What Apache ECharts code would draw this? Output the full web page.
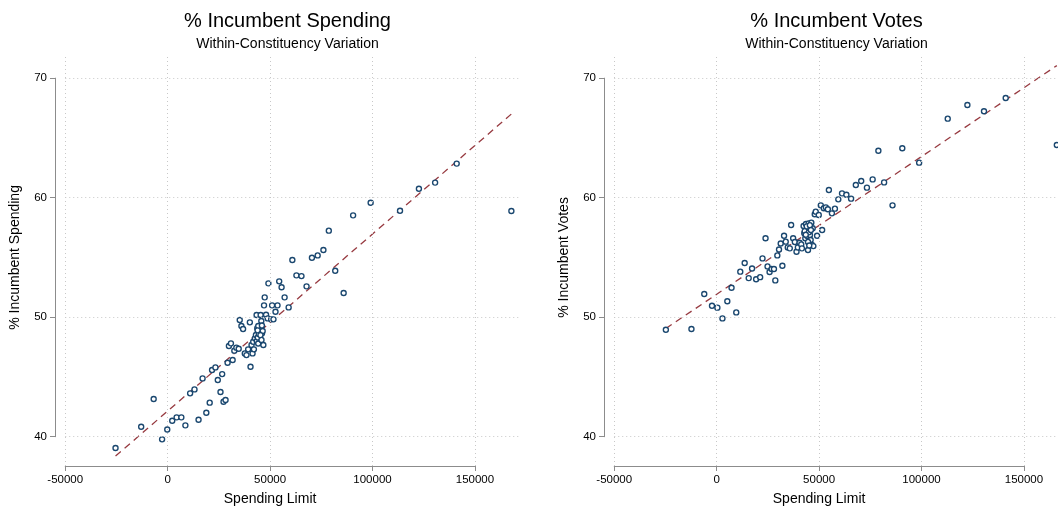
<!DOCTYPE html>
<html>
<head>
<meta charset="utf-8">
<script src="https://cdn.jsdelivr.net/npm/echarts@6/dist/echarts.min.js"></script>
<style>
html, body { margin: 0; padding: 0; background: #fff; }
#chart { width: 1058px; height: 506px; }
</style>
</head>
<body>
<div id="chart"></div>
<script>
//----------------------Data----------------------
let x_ticks = [-50000, 0, 50000, 100000, 150000];
let y_ticks = [40, 50, 60, 70];

// % incumbent spending vs spending limit
let spend_x = [-25450, -12930, -6830, -2720, -200, 2230, 4370, 6680, 8650, 10960,
    13100, 15080, 17050, 18870, 20520, 21670, 23320, 24470, 25790, 26610,
    27270, 28260, 29250, 29900, 30890, 31720, 32540, 33530, 34680, 35180,
    36000, 36820, 37650, 38470, 39290, 40120, 40450, 40940, 41440, 41770,
    42100, 42590, 43080, 43410, 43740, 44230, 44730, 45060, 45390, 45720,
    46050, 46380, 46710, 48030, 48850, 50500, 51650, 52640, 47040, 50990,
    53630, 59060, 47370, 49180, 54450, 55610, 57090, 60870, 62850, 65320,
    67800, 70430, 73230, 76030, 78670, 81800, 85910, 90530, 99090, 113430,
    122650, 130560, 141100, 167790, 43500, 44000, 44500, 45300, 46000, 44200,
    45800, 43900];
let spend_y = [39.05, 40.84, 43.15, 39.78, 40.61, 41.34, 41.62, 41.62, 40.95, 43.63,
    43.96, 41.42, 44.88, 42.01, 42.85, 45.58, 45.80, 44.74, 43.74, 45.24,
    42.93, 43.07, 46.19, 47.59, 47.81, 46.42, 47.20, 47.45, 47.36, 49.76,
    49.26, 49.01, 46.97, 46.83, 47.31, 49.57, 45.86, 47.67, 46.97, 47.95,
    47.31, 48.23, 48.51, 50.18, 49.07, 49.26, 48.79, 47.95, 50.18, 49.68,
    48.65, 48.84, 47.67, 50.21, 49.90, 49.82, 49.82, 50.46, 50.99, 50.99,
    50.99, 50.82, 51.66, 52.83, 53.00, 52.50, 51.66, 54.78, 53.50, 53.44,
    52.58, 54.98, 55.17, 55.62, 57.24, 53.89, 52.02, 58.52, 59.58, 58.91,
    60.75, 61.26, 62.85, 58.88, 48.00, 48.30, 48.60, 48.50, 49.30, 47.80,
    48.10, 48.90];
let spend_fit_x = [-25450, 167790];
let spend_fit_y = [38.38, 67.00];

// % incumbent votes vs spending limit
let votes_x = [-24800, -12310, -6060, -2280, 350, 2820, 5200, 7260, 9560, 11530,
    13670, 15640, 17280, 19260, 21230, 22380, 23860, 24840, 25830, 26820,
    27970, 28630, 29610, 30440, 31260, 32080, 32900, 33720, 34710, 35700,
    36350, 37340, 38160, 38980, 39640, 40460, 41290, 41620, 42440, 42770,
    43270, 43590, 43920, 44250, 44580, 44910, 45230, 45560, 45890, 46220,
    46550, 46880, 47210, 47870, 48360, 49020, 49840, 50830, 51490, 52310,
    53300, 54280, 54780, 56260, 57730, 59380, 61190, 63330, 65620, 67930,
    70560, 73350, 76150, 78940, 81740, 85850, 90620, 98840, 112800, 122400,
    130500, 141100, 166060, 43000, 44000, 45000, 45500, 44600, 46000, 43500,
    45200];
let votes_y = [48.95, 49.01, 51.94, 50.96, 50.80, 49.90, 51.33, 52.47, 50.40, 53.81,
    54.53, 53.27, 54.08, 53.18, 53.35, 54.92, 56.60, 54.25, 53.78, 54.03,
    54.03, 53.08, 55.17, 55.67, 56.17, 54.31, 56.82, 56.32, 55.84, 55.76,
    57.71, 56.60, 56.29, 55.48, 55.84, 56.23, 56.09, 55.76, 57.63, 57.02,
    56.60, 57.80, 57.35, 56.79, 55.62, 57.85, 57.41, 56.88, 56.46, 57.91,
    56.04, 57.44, 55.95, 58.61, 58.83, 56.82, 58.55, 59.36, 57.30, 59.11,
    59.19, 59.03, 60.64, 58.69, 59.08, 59.86, 60.36, 60.25, 59.92, 61.06,
    61.39, 60.84, 61.53, 63.93, 61.28, 59.36, 64.13, 62.93, 66.61, 67.76,
    67.23, 68.34, 64.41, 57.20, 57.60, 57.10, 57.70, 56.30, 57.30, 56.90,
    56.00];
let votes_fit_x = [-24800, 166060];
let votes_fit_y = [49.06, 71.05];

//--------------------Location--------------------
let font = "'Liberation Sans', Arial, Helvetica, sans-serif";
let plot_top = 57;
let plot_wid = 465;
let plot_hei = 409;
// data range of the whole plot region (wider than the labelled axes)
let reg_x_min = -55000, reg_x_max = 172000;
let reg_y_min = 37.55, reg_y_max = 71.77;
let axis_x_min = x_ticks[0], axis_x_max = x_ticks[x_ticks.length - 1];
let axis_y_min = y_ticks[0], axis_y_max = y_ticks[y_ticks.length - 1];

let ax_left_off = (axis_x_min - reg_x_min) / (reg_x_max - reg_x_min) * plot_wid;
let ax_wid = (axis_x_max - axis_x_min) / (reg_x_max - reg_x_min) * plot_wid;
let ax_top_off = (reg_y_max - axis_y_max) / (reg_y_max - reg_y_min) * plot_hei;
let ax_hei = (axis_y_max - axis_y_min) / (reg_y_max - reg_y_min) * plot_hei;

let grey = '#8c8c8c';

function zip(xs, ys) {
    return xs.map((v, i) => [v, ys[i]]);
}

let grids = [], x_axes = [], y_axes = [], series = [], titles = [];

function add_panel(left, title, y_name, xs, ys, fx, fy) {
    let g = grids.length;
    // plot region
    grids.push({left: left, top: plot_top, width: plot_wid, height: plot_hei, outerBoundsMode: 'none'});
    // labelled axes
    grids.push({left: left + ax_left_off, top: plot_top + ax_top_off, width: ax_wid, height: ax_hei,
        outerBoundsMode: 'none'});

    x_axes.push({gridIndex: g, type: 'value', min: reg_x_min, max: reg_x_max, show: false});
    y_axes.push({gridIndex: g, type: 'value', min: reg_y_min, max: reg_y_max, show: false});

    x_axes.push({
        gridIndex: g + 1, type: 'value', min: axis_x_min, max: axis_x_max, interval: 50000,
        position: 'bottom', offset: plot_hei - ax_top_off - ax_hei,
        axisLine: {show: true, onZero: false, lineStyle: {color: grey, width: 1}},
        axisTick: {show: true, length: 5, lineStyle: {color: grey}},
        axisLabel: {color: '#000', fontSize: 11.5, fontFamily: font, margin: 8,
            showMinLabel: true, showMaxLabel: true, formatter: v => String(v)},
        splitLine: {show: false},
        name: 'Spending Limit', nameLocation: 'middle', nameGap: 26,
        nameTextStyle: {color: '#000', fontSize: 14, fontFamily: font}
    });
    y_axes.push({
        gridIndex: g + 1, type: 'value', min: axis_y_min, max: axis_y_max, interval: 10,
        position: 'left', offset: ax_left_off,
        axisLine: {show: true, onZero: false, lineStyle: {color: grey, width: 1}},
        axisTick: {show: true, length: 5, lineStyle: {color: grey}},
        axisLabel: {color: '#000', fontSize: 11.5, fontFamily: font, margin: 8},
        splitLine: {show: false},
        name: y_name, nameLocation: 'middle', nameGap: 33, nameRotate: 90,
        nameTextStyle: {color: '#000', fontSize: 14, fontFamily: font}
    });

    // dotted grid lines
    let grid_lines = x_ticks.map(v => ({xAxis: v}));
    y_ticks.forEach(v => grid_lines.push([{coord: [axis_x_min, v]}, {coord: [reg_x_max, v]}]));
    series.push({
        type: 'line', xAxisIndex: g, yAxisIndex: g, data: [], z: 1, silent: true,
        markLine: {
            silent: true, symbol: 'none', animation: false,
            label: {show: false},
            lineStyle: {color: '#c8c8c8', width: 1, type: [1, 3]},
            data: grid_lines
        }
    });
    // fitted line
    series.push({
        type: 'line', xAxisIndex: g, yAxisIndex: g, data: zip(fx, fy), z: 2,
        showSymbol: false, silent: true,
        lineStyle: {color: '#973a40', width: 1.3, type: [7, 5]}
    });
    // points
    series.push({
        type: 'scatter', xAxisIndex: g, yAxisIndex: g, data: zip(xs, ys), z: 3,
        symbol: 'circle', symbolSize: 5,
        itemStyle: {color: '#fff', borderColor: '#1a476f', borderWidth: 1.4, opacity: 1}
    });

    titles.push({
        text: title, subtext: 'Within-Constituency Variation',
        left: left + plot_wid / 2, top: 11, textAlign: 'center', padding: 0, itemGap: 6,
        textStyle: {fontSize: 20, fontWeight: 'normal', color: '#000', fontFamily: font},
        subtextStyle: {fontSize: 14, color: '#000', fontFamily: font}
    });
}

add_panel(55, '% Incumbent Spending', '% Incumbent Spending', spend_x, spend_y, spend_fit_x, spend_fit_y);
add_panel(604, '% Incumbent Votes', '% Incumbent Votes', votes_x, votes_y, votes_fit_x, votes_fit_y);

//------------------Generate Graph------------------
let chart = echarts.init(document.getElementById('chart'));
chart.setOption({
    backgroundColor: '#fff',
    animation: false,
    title: titles,
    grid: grids,
    xAxis: x_axes,
    yAxis: y_axes,
    series: series
});
</script>
</body>
</html>
